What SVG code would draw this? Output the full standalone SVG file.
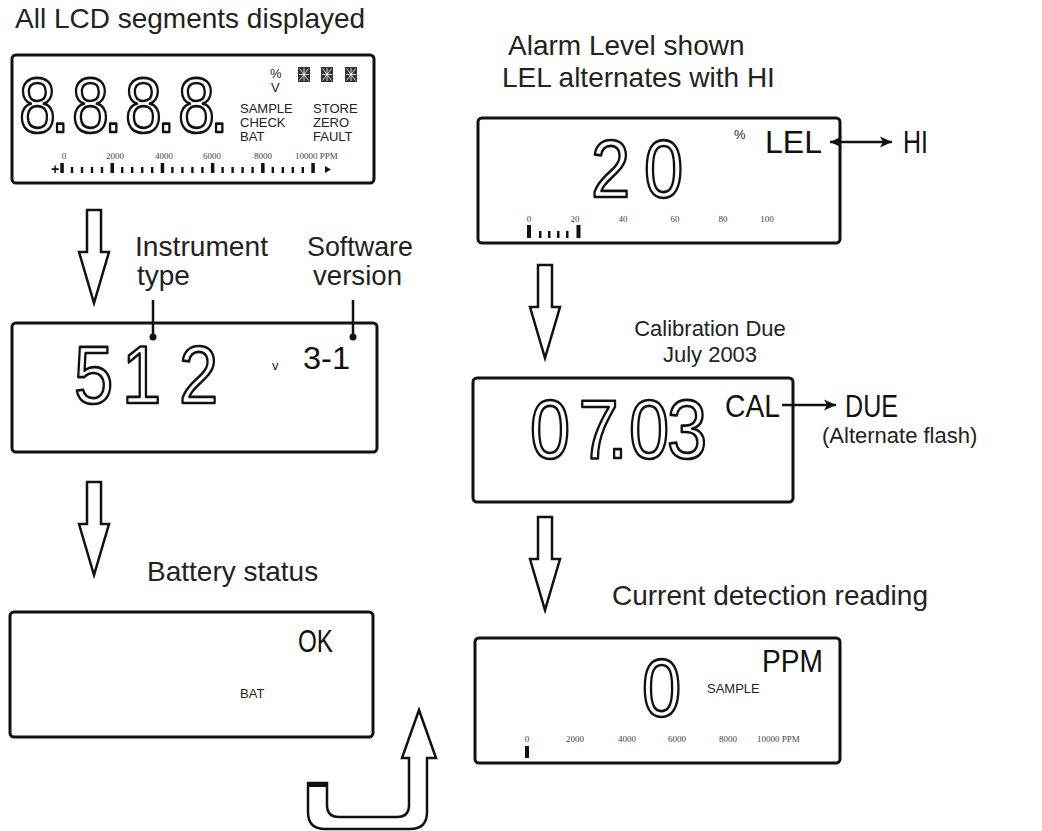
<svg xmlns="http://www.w3.org/2000/svg" width="1042" height="831" viewBox="0 0 1042 831">
<style>
.box{fill:#fff;stroke:#111;stroke-width:3}
.lbl{font-family:"Liberation Sans",Arial,sans-serif;font-size:28px;fill:#222}
.lbl2{font-family:"Liberation Sans",Arial,sans-serif;font-size:22px;fill:#222}
.seg{font-family:"Liberation Sans",Arial,sans-serif;fill:#fff;stroke:#111;stroke-width:2.7;stroke-linejoin:round}
.lcd{font-family:"Liberation Sans",Arial,sans-serif;font-size:32px;fill:#111}
.sm{font-family:"Liberation Sans",Arial,sans-serif;font-size:13px;fill:#222}
.num{font-family:"Liberation Serif","Times New Roman",serif;font-size:9px;fill:#444;text-anchor:middle}
.numL{font-family:"Liberation Serif","Times New Roman",serif;font-size:9px;fill:#444;text-anchor:start}
.arr{fill:#fff;stroke:#111;stroke-width:2.5;stroke-linejoin:miter}
.bar{fill:#111}
.ln{stroke:#111;stroke-width:2.5;fill:none}
.seg16{fill:#333}
.seg16l{stroke:#fff;stroke-width:0.8;fill:none}
</style>
<defs>
<path id="hollow" d="M-7,0 L7,0 L7,42 L15,42 L0,93 L-15,42 L-7,42 Z"/>
<marker id="ah" viewBox="0 0 10 10" refX="10" refY="5" markerWidth="16" markerHeight="12" markerUnits="userSpaceOnUse" orient="auto-start-reverse">
<path d="M0,0.5 L10,5 L0,9.5 L2.5,5 Z" fill="#111"/>
</marker>
<g id="star16">
<rect class="seg16" x="0" y="0" width="12" height="15"/>
<path class="seg16l" d="M6,1 V14 M1,7.5 H11 M1.5,1.5 L6,7.5 L10.5,1.5 M1.5,13.5 L6,7.5 L10.5,13.5"/>
</g>
</defs>
<rect x="0" y="0" width="1042" height="831" fill="#fff"/>

<g id="labels">
<text class="lbl" x="15" y="28">All LCD segments displayed</text>
<text class="lbl" x="135" y="256" font-size="26.5"><tspan x="135" y="256" textLength="133" lengthAdjust="spacingAndGlyphs">Instrument</tspan><tspan x="137" y="285">type</tspan></text>
<text class="lbl" x="307" y="256" font-size="26.5"><tspan x="307" y="256" textLength="106" lengthAdjust="spacingAndGlyphs">Software</tspan><tspan x="313" y="285" textLength="89" lengthAdjust="spacingAndGlyphs">version</tspan></text>
<text class="lbl" x="147" y="581">Battery status</text>
<text class="lbl" x="508" y="55">Alarm Level shown</text>
<text class="lbl" x="502" y="87">LEL alternates with HI</text>
<text class="lbl2" x="710" y="336" text-anchor="middle">Calibration Due</text>
<text class="lbl2" x="710" y="362" text-anchor="middle">July 2003</text>
<text class="lbl2" x="822" y="443">(Alternate flash)</text>
<text class="lbl" x="612" y="605">Current detection reading</text>
</g>

<g id="lcd-all-segments">
<rect class="box" x="12" y="55" width="362" height="128" rx="4"/>
<text class="seg" font-size="77" transform="translate(0,132) scale(0.86,1)" x="22.2 59.3 83.8 120.9 145.5 182.6 207.1 244.2" y="0">8.8.8.8.</text>
<text class="sm" x="270" y="78" font-size="12">%</text>
<text class="sm" x="271" y="92" font-size="12">V</text>
<use href="#star16" x="298" y="67"/>
<use href="#star16" x="321" y="67"/>
<use href="#star16" x="345" y="67"/>
<text class="sm" x="240" y="113">SAMPLE</text>
<text class="sm" x="240" y="127">CHECK</text>
<text class="sm" x="240" y="141">BAT</text>
<text class="sm" x="313" y="113">STORE</text>
<text class="sm" x="313" y="127">ZERO</text>
<text class="sm" x="313" y="141">FAULT</text>
<text class="num" x="64" y="159">0</text>
<text class="num" x="115" y="159">2000</text>
<text class="num" x="164" y="159">4000</text>
<text class="num" x="212" y="159">6000</text>
<text class="num" x="263" y="159">8000</text>
<text class="numL" x="295" y="159">10000 PPM</text>
<text x="51" y="174" font-family="Liberation Sans,sans-serif" font-size="14" font-weight="bold" fill="#111">+</text>
<g class="bar">
<rect x="60.3" y="163" width="3.5" height="10"/>
<rect x="110.5" y="163" width="3.5" height="10"/>
<rect x="160.7" y="163" width="3.5" height="10"/>
<rect x="210.9" y="163" width="3.5" height="10"/>
<rect x="261.1" y="163" width="3.5" height="10"/>
<rect x="311.3" y="163" width="3.5" height="10"/>
<rect x="70.8" y="167" width="2.4" height="6"/><rect x="80.8" y="167" width="2.4" height="6"/><rect x="90.8" y="167" width="2.4" height="6"/><rect x="100.8" y="167" width="2.4" height="6"/>
<rect x="121" y="167" width="2.4" height="6"/><rect x="131" y="167" width="2.4" height="6"/><rect x="141" y="167" width="2.4" height="6"/><rect x="151" y="167" width="2.4" height="6"/>
<rect x="171.2" y="167" width="2.4" height="6"/><rect x="181.2" y="167" width="2.4" height="6"/><rect x="191.2" y="167" width="2.4" height="6"/><rect x="201.2" y="167" width="2.4" height="6"/>
<rect x="221.4" y="167" width="2.4" height="6"/><rect x="231.4" y="167" width="2.4" height="6"/><rect x="241.4" y="167" width="2.4" height="6"/><rect x="251.4" y="167" width="2.4" height="6"/>
<rect x="271.6" y="167" width="2.4" height="6"/><rect x="281.6" y="167" width="2.4" height="6"/><rect x="291.6" y="167" width="2.4" height="6"/><rect x="301.6" y="167" width="2.4" height="6"/>
<path d="M325,166 L331,169.5 L325,173 Z"/>
</g>
</g>

<g id="lcd-instrument">
<rect class="box" x="12" y="323" width="365" height="129" rx="4"/>
<text class="seg" font-size="82" transform="translate(0,403) scale(0.86,1)" x="86 141.9 208.1" y="0">512</text>
<text class="sm" x="272" y="370" font-size="12">v</text>
<text class="lcd" x="303" y="369" font-size="32" textLength="47" lengthAdjust="spacingAndGlyphs">3-1</text>
</g>

<g id="lcd-battery">
<rect class="box" x="10" y="612" width="363" height="125" rx="4"/>
<text class="lcd" x="298" y="652" font-size="33" textLength="35" lengthAdjust="spacingAndGlyphs">OK</text>
<text class="sm" x="240" y="698" font-size="12">BAT</text>
</g>

<g id="lcd-alarm">
<rect class="box" x="478" y="118" width="362" height="125" rx="4"/>
<text class="seg" font-size="82" transform="translate(0,197) scale(0.86,1)" x="687.2 748.8" y="0">20</text>
<text class="sm" x="734" y="139" font-size="10">%</text>
<text class="lcd" x="765" y="153" textLength="57" lengthAdjust="spacingAndGlyphs">LEL</text>
<text class="num" x="529" y="222">0</text>
<text class="num" x="575" y="222">20</text>
<text class="num" x="623" y="222">40</text>
<text class="num" x="675" y="222">60</text>
<text class="num" x="723" y="222">80</text>
<text class="num" x="767" y="222">100</text>
<g class="bar">
<rect x="527" y="225" width="4" height="13"/>
<rect x="539" y="231" width="2.5" height="7"/><rect x="548" y="231" width="2.5" height="7"/><rect x="557" y="231" width="2.5" height="7"/><rect x="566" y="231" width="2.5" height="7"/>
<rect x="576.5" y="225" width="4" height="13"/>
</g>
</g>
<text class="lcd" x="903" y="153" textLength="25" lengthAdjust="spacingAndGlyphs">HI</text>

<g id="lcd-calibration">
<rect class="box" x="473" y="378" width="320" height="124" rx="4"/>
<text class="seg" font-size="84" transform="translate(0,458) scale(0.86,1)" x="616.3 672.6 706.4 731.4 775.6" y="0">07.03</text>
<text class="lcd" x="725" y="417" textLength="55" lengthAdjust="spacingAndGlyphs">CAL</text>
</g>
<text class="lcd" x="845" y="417" textLength="53" lengthAdjust="spacingAndGlyphs">DUE</text>

<g id="lcd-reading">
<rect class="box" x="475" y="638" width="365" height="125" rx="4"/>
<text class="seg" font-size="82" transform="translate(0,716) scale(0.86,1)" x="746.5" y="0">0</text>
<text class="sm" x="707" y="693">SAMPLE</text>
<text class="lcd" x="762" y="672" textLength="61" lengthAdjust="spacingAndGlyphs">PPM</text>
<text class="num" x="527" y="742">0</text>
<text class="num" x="575" y="742">2000</text>
<text class="num" x="627" y="742">4000</text>
<text class="num" x="677" y="742">6000</text>
<text class="num" x="728" y="742">8000</text>
<text class="numL" x="757" y="742">10000 PPM</text>
<rect class="bar" x="525" y="746" width="4" height="12"/>
</g>

<g id="connectors">
<use href="#hollow" class="arr" transform="translate(94,210)"/>
<use href="#hollow" class="arr" transform="translate(94,482)"/>
<use href="#hollow" class="arr" transform="translate(545,265)"/>
<use href="#hollow" class="arr" transform="translate(545,517)"/>
<path class="arr" d="M308,783 L308,812 Q308,829 325,829 L410,829 Q427,829 427,812 L427,758 L436,758 L419,710 L402,758 L409,758 L409,805 Q409,817 397,817 L339,817 Q327,817 327,805 L327,783 Z"/>
<rect x="308" y="782" width="19" height="5" fill="#111"/>
<line class="ln" x1="830" y1="142" x2="892" y2="142" marker-start="url(#ah)" marker-end="url(#ah)"/>
<line class="ln" x1="782" y1="405" x2="836" y2="405" marker-end="url(#ah)"/>
<line class="ln" x1="153" y1="300" x2="153" y2="337"/>
<circle cx="153" cy="337" r="3.5" fill="#111"/>
<line class="ln" x1="353" y1="300" x2="353" y2="337"/>
<circle cx="353" cy="337" r="3.5" fill="#111"/>
</g>
</svg>
